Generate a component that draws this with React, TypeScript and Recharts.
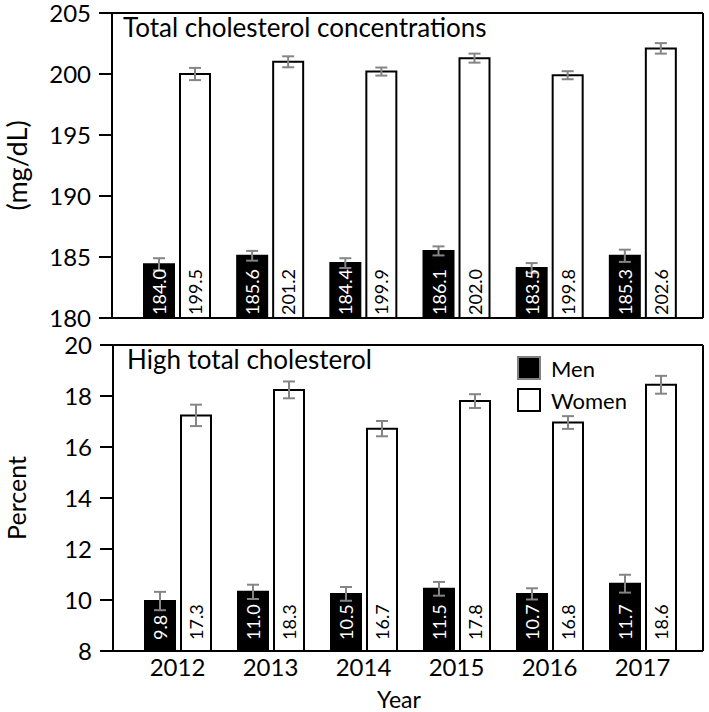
import React from 'react'
import {
  BarChart,
  Bar,
  XAxis,
  YAxis,
  ErrorBar,
  LabelList,
  Label,
  Legend,
} from 'recharts'

const years = ['2012', '2013', '2014', '2015', '2016', '2017']

// total cholesterol, mg/dL
const menMean = [184.4, 185.1, 184.5, 185.5, 184.1, 185.1]
const womenMean = [200.0, 201.0, 200.2, 201.3, 199.9, 202.1]
const menMeanErr = [0.5, 0.4, 0.4, 0.37, 0.4, 0.5]
const womenMeanErr = [0.5, 0.45, 0.33, 0.37, 0.33, 0.43]
const menMeanText = ['184.0', '185.6', '184.4', '186.1', '183.5', '185.3']
const womenMeanText = ['199.5', '201.2', '199.9', '202.0', '199.8', '202.6']
const meanTicks = [180, 185, 190, 195, 200, 205]

// high total cholesterol, percent
const menHigh = [9.96, 10.32, 10.24, 10.44, 10.24, 10.64]
const womenHigh = [17.24, 18.24, 16.72, 17.8, 16.96, 18.44]
const menHighErr = [0.36, 0.28, 0.27, 0.27, 0.22, 0.35]
const womenHighErr = [0.42, 0.33, 0.3, 0.27, 0.25, 0.35]
const menHighText = ['9.8', '11.0', '10.5', '11.5', '10.7', '11.7']
const womenHighText = ['17.3', '18.3', '16.7', '17.8', '16.8', '18.6']
const highTicks = [8, 10, 12, 14, 16, 18, 20]

const meanData = years.map((year, i) => ({
  year,
  men: menMean[i],
  women: womenMean[i],
  menErr: menMeanErr[i],
  womenErr: womenMeanErr[i],
  menText: menMeanText[i],
  womenText: womenMeanText[i],
}))

const highData = years.map((year, i) => ({
  year,
  men: menHigh[i],
  women: womenHigh[i],
  menErr: menHighErr[i],
  womenErr: womenHighErr[i],
  menText: menHighText[i],
  womenText: womenHighText[i],
}))

const FONT = 'Lato, "Open Sans", sans-serif'
const tickStyle = { fontSize: 24, fill: '#000', fontFamily: FONT }
const frameLine = { stroke: '#000', strokeWidth: 2 }
const errColor = '#858585'

const insideLabel = (color: string, lift: number) => (props: any) => {
  const { x, y, width, height, value } = props
  const cx = Number(x) + Number(width) / 2
  const by = Number(y) + Number(height) - lift
  return (
    <text
      x={cx}
      y={by}
      transform={`rotate(-90 ${cx} ${by})`}
      fill={color}
      fontSize={18}
      fontFamily={FONT}
      textAnchor="start"
      dominantBaseline="central"
    >
      {value}
    </text>
  )
}

function LegendBox() {
  const row = (label: string, fill: string, border: string) => (
    <div style={{ display: 'flex', alignItems: 'center', height: 32 }}>
      <div
        style={{
          width: 20,
          height: 20,
          background: fill,
          border: `2px solid ${border}`,
          marginRight: 10,
        }}
      />
      <span style={{ fontFamily: FONT, fontSize: 22, color: '#000' }}>{label}</span>
    </div>
  )
  return (
    <div>
      {row('Men', '#000', '#808080')}
      {row('Women', '#fff', '#000')}
    </div>
  )
}

function Panel({
  data,
  height,
  margin,
  yWidth,
  domain,
  ticks,
  title,
  titleDx,
  yLabel,
  yLabelSize,
  showYear,
  labelLift,
  legend,
}: any) {
  return (
    <BarChart
      width={709}
      height={height}
      data={data}
      margin={margin}
      barSize={30}
      barGap={6}
      style={{ overflow: 'visible' }}
    >
      <XAxis
        dataKey="year"
        padding={{ left: 18, right: 14 }}
        axisLine={frameLine}
        tickLine={false}
        tick={showYear ? tickStyle : false}
        height={showYear ? 61 : 1}
        interval={0}
      >
        {showYear && (
          <Label
            value="Year"
            position="insideBottom"
            offset={4}
            dx={-9}
            style={{ fontSize: 23, fill: '#000', fontFamily: FONT }}
          />
        )}
      </XAxis>
      <XAxis
        xAxisId="top"
        dataKey="year"
        orientation="top"
        axisLine={frameLine}
        tickLine={false}
        tick={false}
        height={1}
      >
        <Label
          value={title}
          position="insideTopLeft"
          offset={7}
          dx={titleDx}
          style={{ fontSize: 26, fill: '#000', fontFamily: FONT }}
        />
      </XAxis>
      <YAxis
        domain={domain}
        ticks={ticks}
        interval={0}
        allowDataOverflow
        width={yWidth}
        axisLine={frameLine}
        tickLine={{ stroke: '#000', strokeWidth: 2 }}
        tickSize={13}
        tickMargin={8}
        tick={tickStyle}
      >
        <Label
          value={yLabel}
          angle={-90}
          position="insideLeft"
          offset={17}
          style={{ fontSize: yLabelSize, fill: '#000', fontFamily: FONT, textAnchor: 'middle' }}
        />
      </YAxis>
      <YAxis
        yAxisId="right"
        orientation="right"
        domain={domain}
        width={1}
        axisLine={frameLine}
        tickLine={false}
        tick={false}
      />
      {legend && (
        <Legend
          layout="vertical"
          align="center"
          verticalAlign="middle"
          wrapperStyle={{ left: 517, top: 22, width: 140 }}
          content={() => <LegendBox />}
        />
      )}
      <Bar dataKey="men" fill="#000" stroke="#000" strokeWidth={2} isAnimationActive={false}>
        <ErrorBar dataKey="menErr" width={6} stroke={errColor} strokeWidth={2} />
        <LabelList dataKey="menText" content={insideLabel('#fff', labelLift)} />
      </Bar>
      <Bar dataKey="women" fill="#fff" stroke="#000" strokeWidth={2} isAnimationActive={false}>
        <ErrorBar dataKey="womenErr" width={6} stroke={errColor} strokeWidth={2} />
        <LabelList dataKey="womenText" content={insideLabel('#000', labelLift)} />
      </Bar>
    </BarChart>
  )
}

export default function App() {
  return (
    <div style={{ position: 'absolute', left: 0, top: 0, width: 709, height: 712, background: '#fff' }}>
      <Panel
        data={meanData}
        height={330}
        margin={{ top: 12, right: 5, left: 0, bottom: 11 }}
        yWidth={112}
        domain={[180, 205]}
        ticks={meanTicks}
        title="Total cholesterol concentrations"
        titleDx={4}
        yLabel="(mg/dL)"
        yLabelSize={27}
        showYear={false}
        labelLift={3}
        legend={false}
      />
      <Panel
        data={highData}
        height={382}
        margin={{ top: 14, right: 5, left: 0, bottom: 0 }}
        yWidth={113}
        domain={[8, 20]}
        ticks={highTicks}
        title="High total cholesterol"
        titleDx={7}
        yLabel="Percent"
        yLabelSize={25}
        showYear={true}
        labelLift={11}
        legend={true}
      />
    </div>
  )
}
